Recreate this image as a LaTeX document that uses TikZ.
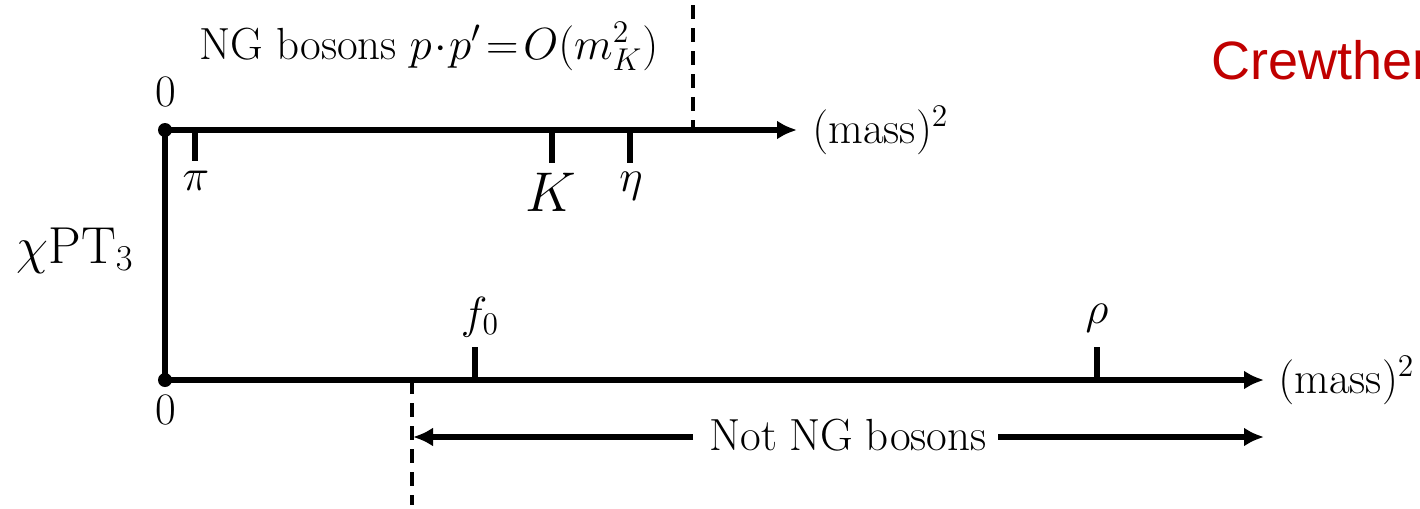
\RequirePackage{fix-cm}
\documentclass[tikz,border=0pt]{standalone}
\usepackage{fontspec}
\newfontfamily\arialfont{Liberation Sans}
\usetikzlibrary{arrows.meta}
\definecolor{crewred}{HTML}{C00000}
\begin{document}
\begin{tikzpicture}[x=0.5pt,y=-0.5pt,
  axis/.style={line width=2.6pt,-{Latex[length=10pt,width=9.5pt]}},
  tick/.style={line width=2.6pt},
  vdash/.style={line width=2pt,dash pattern=on 7pt off 4.5pt},
  lbl/.style={inner sep=0pt,font=\fontsize{22.5}{27}\selectfont},
  dot/.style={circle,fill=black,inner sep=0pt,minimum size=7pt}]
\useasboundingbox (0,0) rectangle (1420,509);
% origins
\node[dot] (o1) at (165,130) {};
\node[dot] (o2) at (165,380) {};
\coordinate (e1) at (797,130);
\coordinate (e2) at (1264,380);
\draw[axis] (o1.center) -- (e1);
\draw[axis] (o2.center) -- (e2);
\draw[tick] (o1.center) -- (o2.center);
% zero labels
\node[lbl,anchor=base] (z1) at (166,106) {0};
\node[lbl,anchor=base] (z2) at (166,424) {0};
% axis labels
\node[lbl,anchor=base west] (m1) at (812,143) {$(\mathrm{mass})^2$};
\node[lbl,anchor=base west] (m2) at (1278,393) {$(\mathrm{mass})^2$};
% top ticks
\coordinate (tpi) at (195,130); \coordinate (tpib) at (195,161);
\coordinate (tK) at (552,130);  \coordinate (tKb) at (552,163);
\coordinate (teta) at (630,130); \coordinate (tetab) at (630,163);
\draw[tick] (tpi) -- (tpib);
\draw[tick] (tK) -- (tKb);
\draw[tick] (teta) -- (tetab);
\node[lbl,anchor=base] (pi) at (196,190) {$\pi$};
\node[lbl,anchor=base,font=\fontsize{28}{32}\selectfont] (K) at (551,211) {$K$};
\node[lbl,anchor=base] (eta) at (631,191) {$\eta$};
% top dashed
\coordinate (d1t) at (693,5); \coordinate (d1b) at (693,130);
\draw[vdash] (d1t) -- (d1b);
\node[lbl,anchor=base] (ng) at (429,59) {NG\hspace{0.28em}bosons\hspace{0.28em}$p\!\cdot\! p'\!=\!O(m_K^2)$};
% chiPT
\node[lbl,anchor=base,font=\fontsize{26}{30}\selectfont] (chi) at (75,263) {$\chi\mathrm{PT}_3$};
% bottom ticks
\coordinate (tf) at (475,380); \coordinate (tft) at (475,347);
\coordinate (trho) at (1097,380); \coordinate (trhot) at (1097,347);
\draw[tick] (tf) -- (tft);
\draw[tick] (trho) -- (trhot);
\node[lbl,anchor=base] (f0) at (480,328) {$f_0$};
\node[lbl,anchor=base] (rho) at (1097,323) {$\rho$};
% bottom dashed
\coordinate (d2t) at (412,380); \coordinate (d2b) at (412,505);
\draw[vdash] (d2t) -- (d2b);
% not NG bosons
\node[lbl,anchor=base] (nng) at (848,450) {Not\hspace{0.28em}NG\hspace{0.28em}bosons};
\coordinate (al) at (413,437);
\coordinate (ar) at (1264,437);
\coordinate (nl) at (693,437);
\coordinate (nr) at (998,437);
\draw[axis] (nl) -- (al);
\draw[axis] (nr) -- (ar);
% Crewther
\begin{scope}
\clip (0,0) rectangle (1420,509);
\node[inner sep=0pt,anchor=base west,text=crewred,font=\arialfont\fontsize{27}{32}\selectfont] (cr) at (1211,79) {Crewther};
\end{scope}
\end{tikzpicture}
\end{document}
